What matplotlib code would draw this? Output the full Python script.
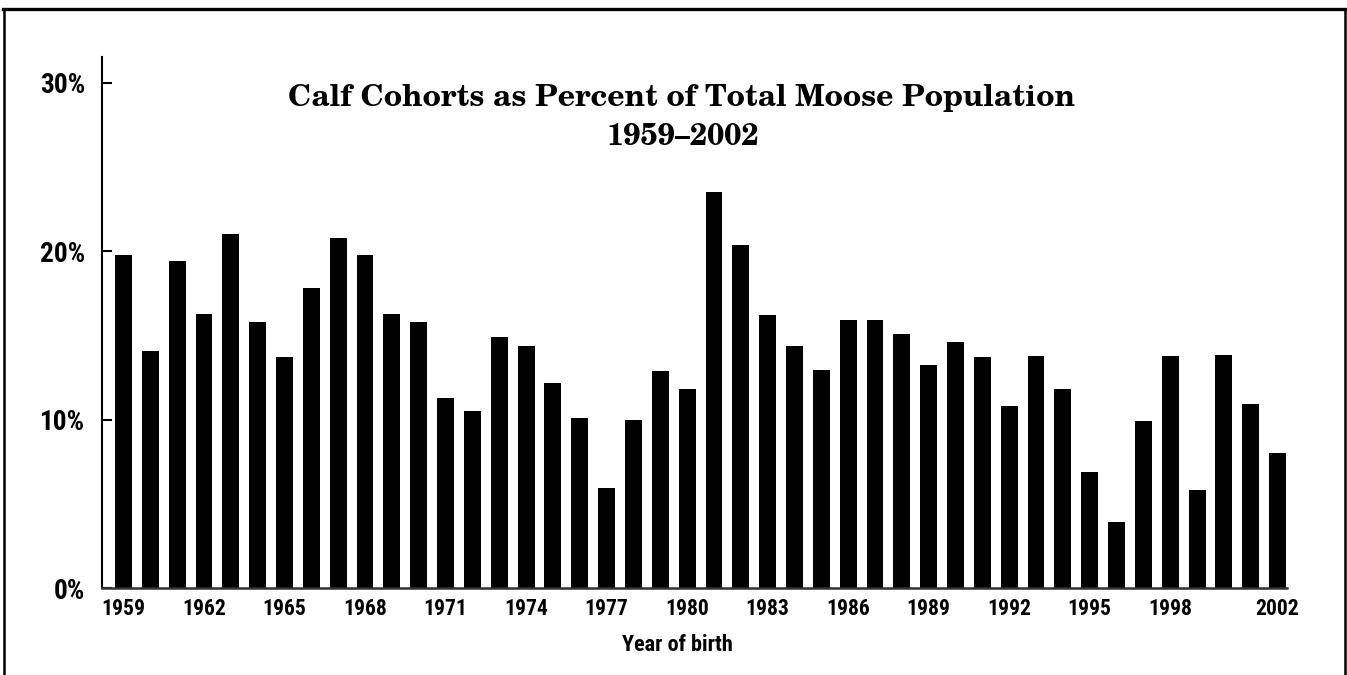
import matplotlib
matplotlib.use("Agg")
import matplotlib.pyplot as plt
from matplotlib.lines import Line2D
from matplotlib import font_manager as fm
from matplotlib.textpath import TextPath
from matplotlib.font_manager import FontProperties

years = list(range(1959, 2003))
calf_pct = [19.8, 14.1, 19.4, 16.3, 21.0, 15.8, 13.7, 17.8, 20.8, 19.8,
            16.3, 15.8, 11.3, 10.5, 14.9, 14.4, 12.2, 10.1, 5.95, 10.0,
            12.9, 11.8, 23.5, 20.4, 16.2, 14.4, 12.95, 15.9, 15.9, 15.1,
            13.25, 14.6, 13.7, 10.8, 13.8, 11.8, 6.9, 3.95, 9.9, 13.8,
            5.85, 13.85, 10.95, 8.0]
xtick_years = [1959, 1962, 1965, 1968, 1971, 1974, 1977, 1980, 1983, 1986,
               1989, 1992, 1995, 1998, 2002]
ytick_vals = [0, 10, 20, 30]
ytick_labels = ["0%", "10%", "20%", "30%"]
title_line1 = "Calf Cohorts as Percent of Total Moose Population"
title_line2 = "1959\u20132002"
xlabel_text = "Year of birth"

names = {f.name for f in fm.fontManager.ttflist}


def pick(cands, default):
    for c in cands:
        if c in names:
            return c
    return default


sans = pick(["Roboto Condensed", "PT Sans Narrow", "Archivo Narrow",
             "Open Sans Condensed", "Liberation Sans Narrow"], "DejaVu Sans")
serif = pick(["C059", "TeX Gyre Schola", "Century Schoolbook L",
              "Liberation Serif"], "DejaVu Serif")


def fit_size(text, family, target_px, weight="bold"):
    fp = FontProperties(family=family, weight=weight, size=100)
    ext = TextPath((0, 0), text, prop=fp).get_extents()
    return 100 * target_px / (ext.width * 100 / 72)


title_fs = fit_size(title_line1, serif, 785)
xt_fs = fit_size("1959", sans, 41)
yt_fs = fit_size("30%", sans, 43)
xl_fs = fit_size(xlabel_text, sans, 110)

W, H = 1347, 675
fig = plt.figure(figsize=(W / 100, H / 100), dpi=100)
ax = fig.add_axes([102 / W, 1 - 588.3 / H, (1287 - 102) / W, (588.3 - 57) / H])

ax.bar(years, calf_pct, width=0.63, color="black", zorder=2)
ax.set_xlim(1958.2, 2002.35)
ax.set_ylim(0, 31.53)

for s in ["top", "right"]:
    ax.spines[s].set_visible(False)
ax.spines["left"].set_linewidth(1.5)
ax.spines["bottom"].set_linewidth(1.8)
ax.spines["bottom"].set_color("#333333")
ax.spines["bottom"].set_zorder(3)

ax.set_yticks(ytick_vals)
ax.set_yticklabels(ytick_labels, fontfamily=sans, fontweight="bold", fontsize=yt_fs)
ax.tick_params(axis="y", direction="in", length=7.5, width=1.5, pad=12)
ax.set_xticks(xtick_years)
ax.set_xticklabels([str(y) for y in xtick_years], fontfamily=sans,
                   fontweight="bold", fontsize=xt_fs)
ax.tick_params(axis="x", length=0, pad=7)

fig.text(682 / W, 1 - 98 / H, title_line1, ha="center", va="center",
         fontfamily=serif, fontweight="bold", fontsize=title_fs)
fig.text(683 / W, 1 - 137 / H, title_line2, ha="center", va="center",
         fontfamily=serif, fontweight="bold", fontsize=title_fs)
fig.text(677 / W, 1 - 645 / H, xlabel_text, ha="center", va="center",
         fontfamily=sans, fontweight="bold", fontsize=xl_fs)

# outer frame (top, left, right)
fig.add_artist(Line2D([3 / W, 1345.5 / W], [1 - 9 / H, 1 - 9 / H],
                      transform=fig.transFigure, color="black", lw=2.4))
fig.add_artist(Line2D([4 / W, 4 / W], [1 - 9 / H, 0],
                      transform=fig.transFigure, color="black", lw=1.8))
fig.add_artist(Line2D([1345 / W, 1345 / W], [1 - 9 / H, 0],
                      transform=fig.transFigure, color="black", lw=1.8))

fig.savefig("out.png", dpi=100)
